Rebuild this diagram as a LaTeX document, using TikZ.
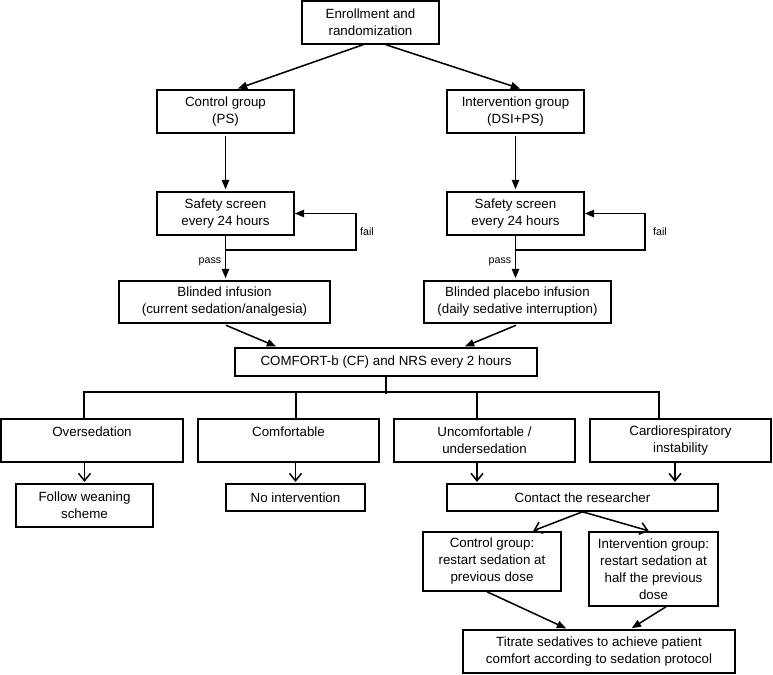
\documentclass[tikz,border=0pt]{standalone}
\usepackage{fontspec}
\setmainfont{Liberation Sans}
\usetikzlibrary{arrows.meta,calc}
\begin{document}
\begin{tikzpicture}[x=0.75pt,y=-0.75pt,
  line width=1.15pt,
  box/.style={draw, inner sep=0pt, align=center, font=\fontsize{10pt}{12.75pt}\selectfont},
  bx/.style 2 args={minimum width=#1*0.75pt, minimum height=#2*0.75pt},
  arr/.style={-{Triangle[length=7pt,width=5.5pt]}, shorten >=1.5pt},
  barb/.style={-{Straight Barb[length=5.5pt,width=9pt]}, shorten >=1pt},
  lab/.style={inner sep=0pt, font=\fontsize{8pt}{9.5pt}\selectfont}]
\useasboundingbox (0,0) rectangle (773,674);
% nodes
\node[box,bx={137}{43}] (enroll) at (370.5,22.5) {Enrollment and\\randomization};
\node[box,bx={137}{43}] (ctrl) at (225.5,111.5) {Control group\\(PS)};
\node[box,bx={137}{43}] (intv) at (515.5,111.5) {Intervention group\\(DSI+PS)};
\node[box,bx={137}{43}] (ss1) at (225.5,213.5) {Safety screen\\every 24 hours};
\node[box,bx={137}{43}] (ss2) at (515.5,213.5) {Safety screen\\every 24 hours};
\node[box,bx={211}{42}] (bi1) at (224.5,302) {Blinded infusion\\(current sedation/analgesia)};
\node[box,bx={187}{42}] (bi2) at (517.5,302) {Blinded placebo infusion\\(daily sedative interruption)};
\node[box,bx={302}{28}] (comf) at (386,362) {COMFORT-b (CF) and NRS every 2 hours};
\node[box,bx={182}{43}] (over) at (92,440.5) {Oversedation\\\mbox{}};
\node[box,bx={181}{43}] (comfy) at (288.5,440.5) {Comfortable\\\mbox{}};
\node[box,bx={181}{43}] (uncomf) at (484.5,440.5) {Uncomfortable /\\undersedation};
\node[box,bx={181}{43}] (cardio) at (680.5,440.5) {Cardiorespiratory\\instability};
\node[box,bx={137}{43}] (follow) at (84.5,505.5) {Follow weaning\\scheme};
\node[box,bx={139}{27}] (noint) at (295.5,497.5) {No intervention};
\node[box,bx={271}{27}] (contact) at (582.5,497.5) {Contact the researcher};
\node[box,bx={138}{59}] (rl) at (492,561.5) {Control group:\\restart sedation at\\previous dose};
\node[box,bx={129}{74}] (rr) at (653.5,569) {Intervention group:\\restart sedation at\\half the previous\\dose};
\node[box,bx={272}{43}] (titr) at (599,651.5) {Titrate sedatives to achieve patient\\comfort according to sedation protocol};
% connectors
\draw[arr] ($(enroll.south)+(-7.5,0)$) -- ($(ctrl.north)+(10.5,0)$);
\draw[arr] ($(enroll.south)+(15.5,0)$) -- ($(intv.north)+(6.5,0)$);
\draw[arr, shorten <=2pt] (ctrl.south) -- (ss1.north);
\draw[arr, shorten <=2pt] (intv.south) -- (ss2.north);
\draw[arr] (ss1.south) -- (bi1.north -| ss1.south);
\draw[arr] (ss2.south) -- (bi2.north -| ss2.south);
\draw[arr, shorten >=0pt] ($(ss1.south)+(0,14)$) -| ($(ss1.east)+(61,0)$) -- (ss1.east);
\draw[arr, shorten >=0pt] ($(ss2.south)+(0,14)$) -| ($(ss2.east)+(60,0)$) -- (ss2.east);
\node[lab] (fail1) at (367,232) {fail};
\node[lab] (fail2) at (660,232) {fail};
\node[lab] (pass1) at (210,262) {pass};
\node[lab] (pass2) at (500,262) {pass};
\draw[arr] ($(bi1.south)+(1.5,1.5)$) -- ($(comf.north)+(-108,0)$);
\draw[arr] ($(bi2.south)+(-1.5,1.5)$) -- ($(comf.north)+(77,0)$);
\draw (comf.south) -- ++(0,17) coordinate (bus);
\draw ($(over.north)+(-8,0)$) |- ($(cardio.north)+(-21.5,-26)$) -- ($(cardio.north)+(-21.5,0)$);
\draw ($(comfy.north)+(7.5,0)$) -- ++(0,-26);
\draw ($(uncomf.north)+(-7.5,0)$) -- ++(0,-26);
\path ($(uncomf.south)+(-7.5,0)$) coordinate (u1) ($(cardio.south)+(-5.5,0)$) coordinate (c1);
\draw[barb] (over.south -| follow.north) -- (follow.north);
\draw[barb] (comfy.south -| noint.north) -- (noint.north);
\draw[barb] (u1) -- (u1 |- contact.north);
\draw[barb] (c1) -- (c1 |- contact.north);
\draw[barb] (contact.south) -- ($(rl.north)+(40,0)$);
\draw[barb] (contact.south) -- ($(rr.north)+(-3.5,0)$);
\draw[arr] ($(rl.south)+(-5,0)$) -- ($(titr.north)+(-31,0)$);
\draw[arr] ($(rr.south)+(12.5,0)$) -- ($(titr.north)+(31,0)$);
\end{tikzpicture}
\end{document}
